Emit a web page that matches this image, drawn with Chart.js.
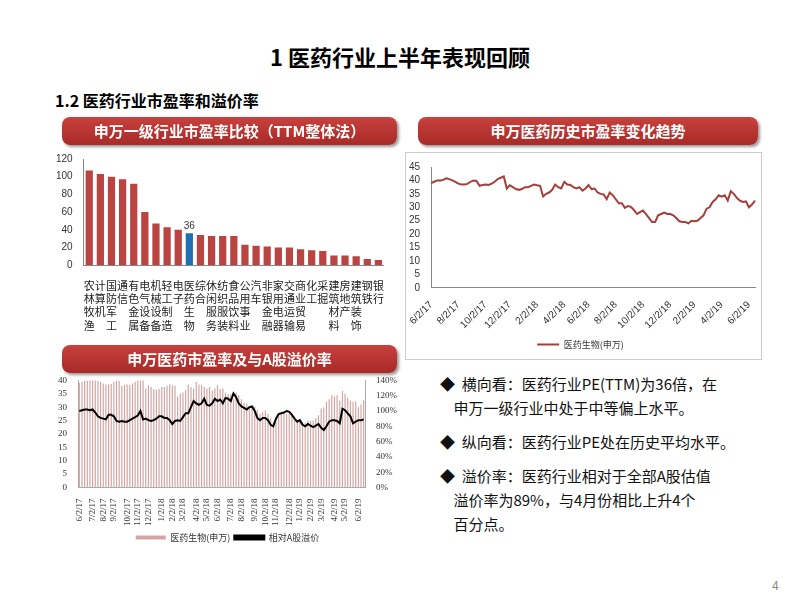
<!DOCTYPE html>
<html><head><meta charset="utf-8">
<script src="https://cdn.jsdelivr.net/npm/chart.js@4.4.1/dist/chart.umd.min.js"></script>
<style>
body{margin:0;width:800px;height:600px;background:#fff;font-family:"Noto Sans CJK SC","Noto Sans",sans-serif;position:relative;overflow:hidden}
.abs{position:absolute}
.banner{position:absolute;height:28px;border-radius:8px;background:linear-gradient(#c8413d,#a82a28);color:#fff;font-weight:bold;font-size:15px;text-align:center;line-height:28px;box-shadow:2px 2px 3px #999}
.bl{position:absolute;left:440px;font-size:15px;color:#111;line-height:24px}
</style></head><body>
<div class="abs" style="left:0;width:800px;top:40px;text-align:center;font-size:22px;font-weight:bold">1 医药行业上半年表现回顾</div>
<div class="abs" style="left:55px;top:88px;font-size:16px;font-weight:bold">1.2 医药行业市盈率和溢价率</div>
<div class="abs" style="left:45px;top:150px;width:345px;height:200px"><canvas id="c1"></canvas></div>
<div class="banner" style="left:62px;top:117px;width:335px">申万一级行业市盈率比较（TTM整体法）</div>
<div class="banner" style="left:418px;top:117px;width:340px">申万医药历史市盈率变化趋势</div>
<div class="abs" style="left:405px;top:152px;width:355px;height:206px;border:1px solid #ccc"><canvas id="c2"></canvas></div>
<div class="banner" style="left:62px;top:345px;width:335px">申万医药市盈率及与A股溢价率</div>
<div class="abs" style="left:55px;top:372px;width:345px;height:180px"><canvas id="c3"></canvas></div>
<div class="bl" style="top:372px">◆&nbsp; 横向看：医药行业PE(TTM)为36倍，在<br>&nbsp;&nbsp;&nbsp;&nbsp;申万一级行业中处于中等偏上水平。</div>
<div class="bl" style="top:430px">◆&nbsp; 纵向看：医药行业PE处在历史平均水平。</div>
<div class="bl" style="top:464px">◆&nbsp; 溢价率：医药行业相对于全部A股估值<br>&nbsp;&nbsp;&nbsp;&nbsp;溢价率为89%，与4月份相比上升4个<br>&nbsp;&nbsp;&nbsp;&nbsp;百分点。</div>
<div class="abs" style="left:772px;top:576px;font-size:12px;color:#888">4</div>
<script>
const industries=["农林牧渔","计算机","国防军工","通信","有色金属","电气设备","机械设备","轻工制造","电子","医药生物","综合","休闲服务","纺织服装","食品饮料","公用事业","汽车","非银金融","家用电器","交通运输","商业贸易","化工","采掘","建筑材料","房地产","建筑装饰","钢铁","银行"];
const industryPE=[107,103,100,97,92,60,47,43,40,36,34,33,33,33,23,22,21,20,20,18,17,16,11,11,10,7,6];
const peHistory=[39,39.5,40,40,40.2,40.8,40.5,40,39.5,38.8,
38.5,38.5,38.7,39.5,40,39.8,38,38.3,38.5,38.3,
38.8,39.5,40.5,41,41.5,37,38.2,37.5,36.8,36.5,
36.8,37.5,37.5,38,38.5,38.2,38,34,35,35.5,
36.5,38.5,37.5,37,39.5,38.5,38.3,37.5,37,37.5,
36.2,37,38.3,36.8,37,35.5,35,34.8,33,35.5,
34.5,33,31.5,31.5,29.8,30.5,30.2,29,27.5,28.2,
28.8,27.5,26,24.5,24.5,27,27.5,28,27.5,27.5,
27,26,24.8,24.5,24.5,24,25,24.8,25,26,
27,29.5,30,32,33,34.5,34,34.5,32.5,36,
35,33.5,32.5,32,32.2,30,31,32.5];
const premium=[100,101,102,102,101,102,98,93,91,90,
89,95,95,93,87,86,87,86,86,88,
90,92,94,100,89,90,88,87,88,90,
93,93,91,91,88,83,87,88,87,92,
97,97,105,113,110,108,110,116,108,107,
110,116,113,115,110,117,116,113,123,118,
110,106,104,102,105,106,100,91,88,91,
91,88,82,80,90,96,97,98,100,99,
95,90,86,88,82,80,83,81,79,81,
83,78,75,80,86,88,88,87,84,103,
101,97,93,84,86,88,88,89];
const startDate=new Date(2017,5,2);
const weekDates=peHistory.map((_,i)=>new Date(startDate.getTime()+i*7*864e5));
function monthLabel(d,step){ if(d.getDate()>7) return ''; const m=d.getMonth()+1; if(step===2 && (m%2)!==0) return ''; return m+'/2/'+String(d.getFullYear()).slice(2);}
const lab2=weekDates.map(d=>monthLabel(d,2));
const lab3=weekDates.map(d=>monthLabel(d,1));
const font="'Liberation Sans', Arial, sans-serif";
const serif="'Liberation Serif','Times New Roman',serif";

new Chart(document.getElementById('c1'),{type:'bar',
data:{labels:industries.map(s=>s.split('')),datasets:[{data:industryPE,backgroundColor:industries.map(s=>s==='医药生物'?'#1f6fb5':'#b94442'),barPercentage:0.65,categoryPercentage:1}]},
options:{responsive:true,maintainAspectRatio:false,animation:false,plugins:{legend:{display:false},tooltip:{enabled:false}},
layout:{padding:{top:5,right:5,left:8,bottom:12}},
scales:{y:{min:0,max:120,ticks:{stepSize:20,font:{size:10,family:font},color:'#333'},grid:{display:false},border:{color:'#888'}},
x:{ticks:{autoSkip:false,maxRotation:0,font:{size:11,family:"'Noto Sans CJK SC'"},color:'#222',padding:6,lineHeight:1.05},grid:{display:false},border:{color:'#888'}}}},
plugins:[{id:'lbl',afterDatasetsDraw(c){const m=c.getDatasetMeta(0);const i=industries.indexOf('医药生物');const b=m.data[i];const x=c.ctx;x.save();x.font='10px '+font;x.fillStyle='#333';x.textAlign='center';x.fillText(String(industryPE[i]),b.x,b.y-4);x.restore();}}]});

new Chart(document.getElementById('c2'),{type:'line',
data:{labels:lab2,datasets:[{label:'医药生物(申万)',data:peHistory,borderColor:'#a43f3c',borderWidth:2,pointRadius:0,tension:0}]},
options:{responsive:true,maintainAspectRatio:false,animation:false,
plugins:{legend:{position:'bottom',labels:{usePointStyle:true,pointStyle:'line',pointStyleWidth:22,font:{size:9,family:"'Noto Sans CJK SC'"},color:'#333',padding:6}},tooltip:{enabled:false}},
layout:{padding:{top:14,right:6}},
scales:{y:{min:0,max:45,ticks:{stepSize:5,autoSkip:false,font:{size:10,family:font},color:'#333'},grid:{display:false},border:{color:'#888'}},
x:{ticks:{autoSkip:false,maxRotation:45,minRotation:45,font:{size:10,family:font},color:'#333',callback:(v,i)=>lab2[i]||null},grid:{display:false},border:{color:'#888'}}}}});

new Chart(document.getElementById('c3'),{
data:{labels:lab3,datasets:[
{type:'line',label:'相对A股溢价',data:premium,borderColor:'#000',backgroundColor:'#000',borderWidth:2,pointRadius:0,yAxisID:'y1',order:0},
{type:'bar',label:'医药生物(申万)',data:peHistory,backgroundColor:'#d4a5a4',barPercentage:0.45,categoryPercentage:1,yAxisID:'y',order:1}]},
options:{responsive:true,maintainAspectRatio:false,animation:false,
plugins:{legend:{position:'bottom',reverse:true,labels:{boxWidth:30,boxHeight:4,font:{size:9,family:"'Noto Sans CJK SC'"},color:'#333',padding:4}},tooltip:{enabled:false}},
layout:{padding:{top:2}},
scales:{y:{min:0,max:40,ticks:{stepSize:5,autoSkip:false,font:{size:9,family:serif},color:'#333'},grid:{display:false},border:{color:'#aaa'}},
y1:{position:'right',min:0,max:140,ticks:{stepSize:20,autoSkip:false,font:{size:9,family:serif},color:'#333',callback:v=>v+'%'},grid:{display:false},border:{color:'#aaa'}},
x:{ticks:{autoSkip:false,maxRotation:90,minRotation:90,font:{size:9,family:serif},color:'#333',callback:(v,i)=>lab3[i]||null},grid:{display:false},border:{color:'#aaa'}}}}});
</script>
</body></html>
